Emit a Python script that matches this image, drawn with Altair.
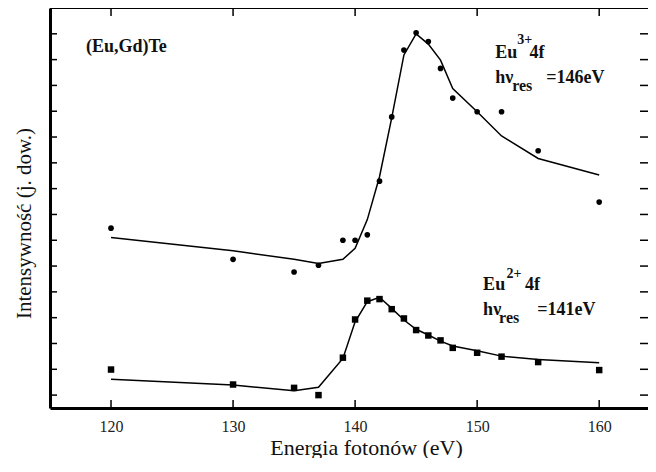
import altair as alt
import pandas as pd

# ---- data ----
energy = [120, 130, 135, 137, 139, 140, 141, 142, 143, 144, 145, 146, 147, 148, 150, 152, 155, 160]

eu3_points = [6.47, 5.26, 4.77, 5.03, 6.00, 6.00, 6.21, 8.29, 10.78, 13.37, 14.04, 13.70, 12.66, 11.51, 10.98, 10.98, 9.47, 7.48]
eu3_fit = [6.11, 5.59, 5.26, 5.10, 5.26, 5.69, 6.80, 8.46, 10.74, 13.18, 14.00, 13.60, 12.98, 11.88, 10.98, 10.04, 9.17, 8.53]

eu2_points = [0.99, 0.41, 0.28, 0.00, 1.45, 2.93, 3.66, 3.72, 3.33, 2.97, 2.52, 2.31, 2.12, 1.83, 1.64, 1.49, 1.28, 0.97]
eu2_fit = [0.61, 0.39, 0.17, 0.30, 1.42, 2.84, 3.62, 3.79, 3.36, 2.91, 2.55, 2.33, 2.09, 1.90, 1.72, 1.51, 1.38, 1.25]

x_ticks = [120, 130, 140, 150, 160]
y_ticks = list(range(0, 15))

# annotation pieces (data coordinates)
main_text = ["(Eu,Gd)Te", "Eu", "4f", "hν", "=146eV", "Eu", "4f", "hν", "=141eV"]
main_x = [117.95, 151.48, 154.30, 151.48, 155.66, 150.49, 153.93, 150.49, 154.92]
main_y = [13.29, 13.06, 13.06, 12.09, 12.09, 4.07, 4.07, 3.10, 3.10]

sup_text = ["3+", "2+"]
sup_x = [153.28, 152.40]
sup_y = [13.62, 4.55]

sub_text = ["res", "res"]
sub_x = [152.87, 151.80]
sub_y = [11.78, 2.79]

W, H = 598, 400
FONT = "Liberation Serif"

xs = alt.Scale(domain=[115, 164.0], nice=False, zero=False)
ys = alt.Scale(domain=[-0.5, 15], nice=False, zero=False)

df = pd.DataFrame({
    "E": energy * 2,
    "pt": eu3_points + eu2_points,
    "fit": eu3_fit + eu2_fit,
    "s": ["Eu3"] * len(energy) + ["Eu2"] * len(energy),
})

xax = alt.Axis(values=x_ticks, ticks=False, grid=False, domainWidth=3, domainColor="black",
               labelFont=FONT, labelFontSize=16, labelColor="#222", labelPadding=10,
               title="Energia fotonów (eV)", titleFont=FONT, titleFontSize=22,
               titleFontWeight="normal", titleColor="#111", titleX=316, titleY=46,
               titleBaseline="alphabetic")
yax = alt.Axis(labels=False, ticks=False, grid=False, domainWidth=3, domainColor="black",
               title="Intensywność (j. dow.)", titleFont=FONT, titleFontSize=21,
               titleFontWeight="normal", titleColor="#111", titleY=215, titlePadding=16)

base = alt.Chart(df)

lines = base.mark_line(color="black", strokeWidth=1.5).encode(
    x=alt.X("E:Q", scale=xs, axis=xax),
    y=alt.Y("fit:Q", scale=ys, axis=yax),
    detail="s:N",
)

pts = base.mark_point(filled=True, color="black", opacity=1).encode(
    x=alt.X("E:Q", scale=xs),
    y=alt.Y("pt:Q", scale=ys),
    shape=alt.Shape("s:N", scale=alt.Scale(domain=["Eu3", "Eu2"], range=["circle", "square"]), legend=None),
    size=alt.Size("s:N", scale=alt.Scale(domain=["Eu3", "Eu2"], range=[32, 42]), legend=None),
)

xt = pd.DataFrame({"x": x_ticks})
yt = pd.DataFrame({"y": y_ticks})

xt_bottom = alt.Chart(xt).mark_rule(color="black", strokeWidth=1.5).encode(
    x=alt.X("x:Q", scale=xs), y=alt.value(H), y2=alt.value(H - 8))
xt_top = alt.Chart(xt).mark_rule(color="black", strokeWidth=1.5).encode(
    x=alt.X("x:Q", scale=xs), y=alt.value(0), y2=alt.value(8))
yt_left = alt.Chart(yt).mark_rule(color="black", strokeWidth=1.5).encode(
    y=alt.Y("y:Q", scale=ys), x=alt.value(0), x2=alt.value(7))
yt_right = alt.Chart(yt).mark_rule(color="black", strokeWidth=1.5).encode(
    y=alt.Y("y:Q", scale=ys), x=alt.value(W - 8), x2=alt.value(W))

top_border = alt.Chart(xt).mark_rule(color="black", strokeWidth=1.5).encode(
    x=alt.value(0), x2=alt.value(W), y=alt.value(0))

main_df = pd.DataFrame({"t": main_text, "x": main_x, "y": main_y})
sup_df = pd.DataFrame({"t": sup_text, "x": sup_x, "y": sup_y})
sub_df = pd.DataFrame({"t": sub_text, "x": sub_x, "y": sub_y})

txt_main = alt.Chart(main_df).mark_text(font=FONT, fontSize=18, fontWeight="bold", align="left",
                                        baseline="alphabetic", color="#111").encode(
    x=alt.X("x:Q", scale=xs), y=alt.Y("y:Q", scale=ys), text="t:N")
txt_sup = alt.Chart(sup_df).mark_text(font=FONT, fontSize=14, fontWeight="bold", align="left",
                                      baseline="alphabetic", color="#111").encode(
    x=alt.X("x:Q", scale=xs), y=alt.Y("y:Q", scale=ys), text="t:N")
txt_sub = alt.Chart(sub_df).mark_text(font=FONT, fontSize=16, fontWeight="bold", align="left",
                                      baseline="alphabetic", color="#111").encode(
    x=alt.X("x:Q", scale=xs), y=alt.Y("y:Q", scale=ys), text="t:N")

chart = alt.layer(
    lines, pts, xt_bottom, xt_top, yt_left, yt_right, top_border, txt_main, txt_sup, txt_sub
).properties(
    width=W, height=H,
    autosize=alt.AutoSizeParams(type="none"),
    padding={"left": 42, "top": 0, "right": 0, "bottom": 50},
    background="white",
).configure_view(stroke=None)

chart.save("out.html", embed_options={"renderer": "svg", "actions": False})
